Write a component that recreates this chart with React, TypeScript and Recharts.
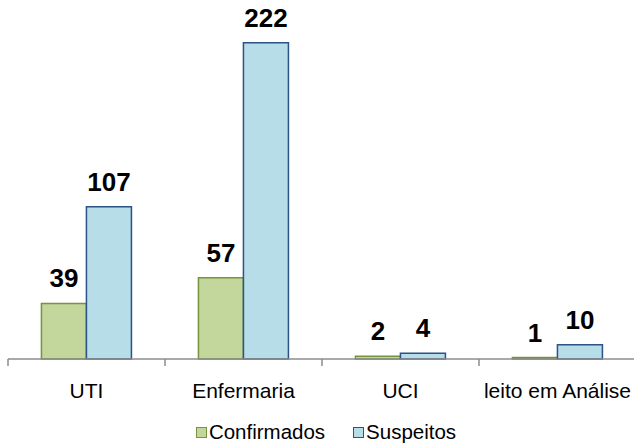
import React from 'react'
import { BarChart, Bar, XAxis, YAxis, Legend, LabelList } from 'recharts'

const CATEGORIES = ['UTI', 'Enfermaria', 'UCI', 'leito em Análise']
const CONFIRMADOS = [39, 57, 2, 1]
const SUSPEITOS = [107, 222, 4, 10]

const FONT = '"Liberation Sans", Arial, sans-serif'
const WIDTH = 634
const MARGIN = { top: 3, right: -2, left: 8, bottom: 0 }
const BAND = (WIDTH - MARGIN.left - MARGIN.right) / CATEGORIES.length
const TICK_SIZE = 7
const TICK_MARGIN = 17
const AXIS_GRAY = '#8c8c8c'

const SERIES = [
  { key: 'confirmados', name: 'Confirmados', fill: '#c3d69b', stroke: '#77933c' },
  { key: 'suspeitos', name: 'Suspeitos', fill: '#b7dde8', stroke: '#2c5286' },
]

const data = CATEGORIES.map((name, i) => ({
  name,
  confirmados: CONFIRMADOS[i],
  suspeitos: SUSPEITOS[i],
}))

// category label in the middle, tick mark on the left edge of the band (Excel style)
function CategoryTick(props: any) {
  const { x, y, payload } = props
  const axisY = y - TICK_SIZE - TICK_MARGIN
  return (
    <g>
      <line
        x1={x - BAND / 2}
        x2={x - BAND / 2}
        y1={axisY}
        y2={axisY + TICK_SIZE}
        stroke={AXIS_GRAY}
        strokeWidth={1.5}
      />
      <text x={x} y={y} dy="0.71em" textAnchor="middle" fill="#000" fontSize={21} fontFamily={FONT}>
        {payload.value}
      </text>
    </g>
  )
}

function LegendContent() {
  return (
    <div
      style={{
        display: 'flex',
        justifyContent: 'center',
        alignItems: 'center',
        height: 28,
        paddingLeft: 18,
        fontFamily: FONT,
        fontSize: 20.5,
        color: '#000',
      }}
    >
      {SERIES.map((s, i) => (
        <div key={s.key} style={{ display: 'flex', alignItems: 'center', marginLeft: i ? 28 : 0 }}>
          <span
            style={{
              display: 'inline-block',
              width: 9,
              height: 9,
              background: s.fill,
              border: `1.5px solid ${s.stroke}`,
              marginRight: 2,
            }}
          />
          <span>{s.name}</span>
        </div>
      ))}
    </div>
  )
}

export default function App() {
  return (
    <div style={{ position: 'absolute', left: 0, top: 0, background: '#fff' }}>
      <BarChart
        width={WIDTH}
        height={446}
        data={data}
        margin={MARGIN}
        barCategoryGap="21.3%"
        barGap={0}
      >
        <XAxis
          dataKey="name"
          height={59}
          stroke={AXIS_GRAY}
          strokeWidth={1.5}
          tickLine={false}
          tickSize={TICK_SIZE}
          tickMargin={TICK_MARGIN}
          interval={0}
          tick={<CategoryTick />}
        />
        <YAxis hide domain={[0, 250]} />
        <Legend verticalAlign="bottom" content={<LegendContent />} wrapperStyle={{ left: 0, width: WIDTH }} />
        {SERIES.map((s) => (
          <Bar
            key={s.key}
            dataKey={s.key}
            name={s.name}
            fill={s.fill}
            stroke={s.stroke}
            strokeWidth={1.5}
            isAnimationActive={false}
          >
            <LabelList
              dataKey={s.key}
              position="top"
              offset={16}
              fill="#000"
              fontSize={26}
              fontWeight="bold"
              fontFamily={FONT}
            />
          </Bar>
        ))}
      </BarChart>
    </div>
  )
}
